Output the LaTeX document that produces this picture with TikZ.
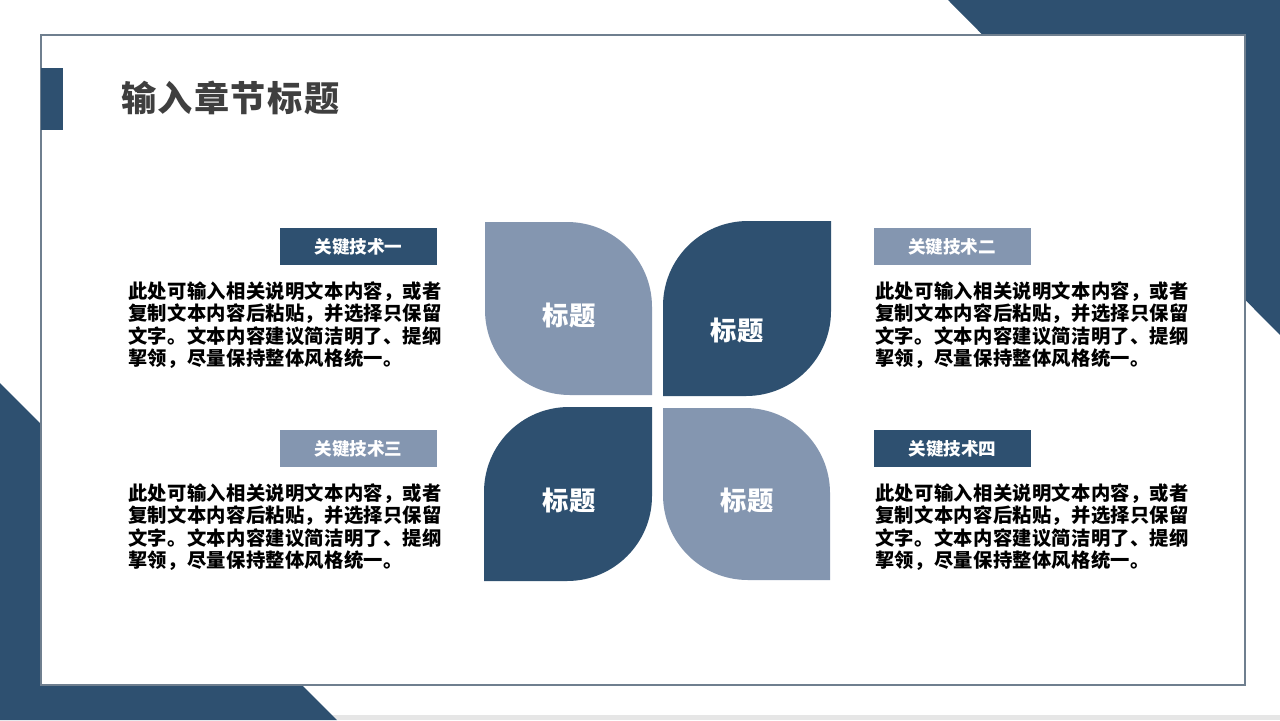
\documentclass[tikz,border=0pt]{standalone}
\usepackage{fontspec}
\setmainfont{Liberation Sans}
\newfontfamily\cjk{Noto Sans CJK SC}
\newfontfamily\cjkwide[LetterSpace=4]{Noto Sans CJK SC}
\newfontfamily\cjkbody[LetterSpace=1.5]{Noto Sans CJK SC}
\usetikzlibrary{positioning}
\definecolor{navy}{HTML}{2E5070}
\definecolor{slate}{HTML}{8496B0}
\definecolor{framegrey}{HTML}{6F7F8F}
\definecolor{titlegrey}{HTML}{3F3F3F}
\definecolor{stripgrey}{HTML}{E6E6E6}
\tikzset{
	tagbox/.style={fill=#1, text=white, minimum width=3.14cm, minimum height=0.74cm, inner sep=0pt, font=\cjk\bfseries\fontsize{10}{12}\selectfont},
	bodytext/.style={anchor=north west, inner sep=0pt, align=left, text=black, font=\cjkbody\bfseries\fontsize{11}{12.8}\selectfont},
	petaltext/.style={text=white, inner sep=0pt, font=\cjk\bfseries\fontsize{15}{18}\selectfont},
}

\begin{document}
\begin{tikzpicture}[x=0.02cm, y=-0.02cm]
		%%%%% START %%%%%
		\useasboundingbox (0, 0) rectangle (1280, 720);
		\fill[white] (0, 0) rectangle (1280, 720);
		
		\fill[stripgrey] (0, 715) rectangle (1280, 720);
		\fill[navy] (948, 0) -- (1280, 0) -- (1280, 335) -- cycle;
		\fill[navy] (0, 383) -- (0, 720) -- (337, 720) -- cycle;
		
		\draw[framegrey, line width=1.1pt, fill=white] (41, 35) rectangle (1245, 685);
		\fill[navy] (41, 68) rectangle (63, 130);
		
		\node[anchor=west, inner sep=0pt, text=titlegrey, font=\cjkwide\bfseries\fontsize{20}{24}\selectfont] (title) at (121, 98) {输入章节标题};
		
		% petals
		\fill[slate] (485, 222) -- (567, 222) .. controls (614, 222) and (652, 260) .. (652, 307) -- (652, 395) -- (570, 395) .. controls (523, 395) and (485, 357) .. (485, 310) -- cycle;
		\fill[navy] (831, 221) -- (831, 311) .. controls (831, 358) and (793, 396) .. (746, 396) -- (663, 396) -- (663, 306) .. controls (663, 259) and (701, 221) .. (748, 221) -- cycle;
		\fill[navy] (652, 407) -- (652, 496) .. controls (652, 543) and (614, 581) .. (567, 581) -- (484, 581) -- (484, 492) .. controls (484, 445) and (522, 407) .. (569, 407) -- cycle;
		\fill[slate] (663, 408) -- (745, 408) .. controls (792, 408) and (830, 446) .. (830, 493) -- (830, 580) -- (748, 580) .. controls (701, 580) and (663, 542) .. (663, 495) -- cycle;
		
		\node[petaltext] (p1) at (569, 315) {标题};
		\node[petaltext] (p2) at (737, 330) {标题};
		\node[petaltext] (p3) at (569, 500) {标题};
		\node[petaltext] (p4) at (747, 500) {标题};
		
		% tags
		\node[tagbox=navy] (tag1) at (358.5, 246.5) {关键技术一};
		\node[tagbox=slate] (tag2) at (952, 246.5) {关键技术二};
		\node[tagbox=slate] (tag3) at (358.5, 448.5) {关键技术三};
		\node[tagbox=navy] (tag4) at (952.5, 448.5) {关键技术四};
		
		% texts
		\node[bodytext] (txt1) at (128, 281) {此处可输入相关说明文本内容，或者\\复制文本内容后粘贴，并选择只保留\\文字。文本内容建议简洁明了、提纲\\挈领，尽量保持整体风格统一。};
		\node[bodytext] (txt2) at (875, 281) {此处可输入相关说明文本内容，或者\\复制文本内容后粘贴，并选择只保留\\文字。文本内容建议简洁明了、提纲\\挈领，尽量保持整体风格统一。};
		\node[bodytext] (txt3) at (128, 483) {此处可输入相关说明文本内容，或者\\复制文本内容后粘贴，并选择只保留\\文字。文本内容建议简洁明了、提纲\\挈领，尽量保持整体风格统一。};
		\node[bodytext] (txt4) at (875, 483) {此处可输入相关说明文本内容，或者\\复制文本内容后粘贴，并选择只保留\\文字。文本内容建议简洁明了、提纲\\挈领，尽量保持整体风格统一。};
		
		%%%%% END %%%%%
\end{tikzpicture}
\end{document}
